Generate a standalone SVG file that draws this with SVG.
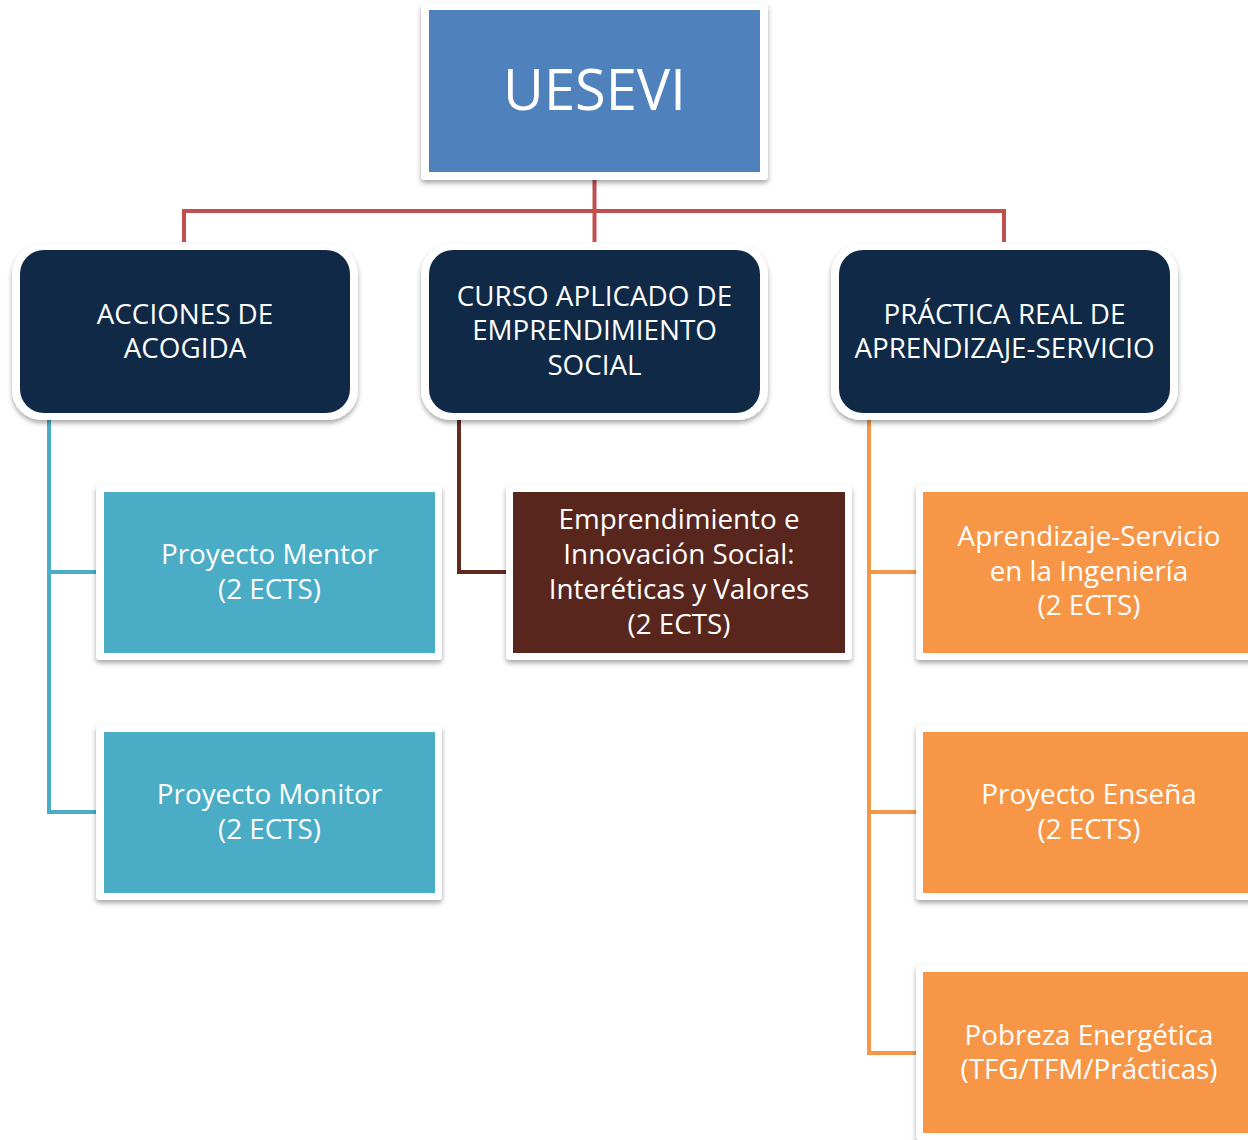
<svg xmlns="http://www.w3.org/2000/svg" width="1248" height="1140" viewBox="0 0 1248 1140">
<defs>
<filter id="sh" x="-10%" y="-10%" width="120%" height="125%">
<feDropShadow dx="0" dy="3" stdDeviation="2.5" flood-color="#000" flood-opacity="0.35"/>
</filter>
<style>
.frame{fill:#fff;filter:url(#sh)}
.t{font-family:"Open Sans","Liberation Sans",sans-serif;fill:#fff;text-anchor:middle}
.t1{font-size:56px}
.t2{font-size:27.8px}
.t3{font-size:27.8px}
.c{fill:none;stroke-width:4}
</style>
</defs>
<rect width="1248" height="1140" fill="#fff"/>
<g id="connectors">
<path class="c" stroke="#C0504D" d="M594.5 180V242M184 242V211H1004V242"/>
<path class="c" stroke="#4BACC6" d="M49 420V812H97M49 572H97"/>
<path class="c" stroke="#632A1E" d="M459 420V572H507"/>
<path class="c" stroke="#F79646" d="M869 420V1053H916M869 572H916M869 812H916"/>
</g>
<g id="uesevi">
<rect class="frame" x="421" y="3" width="347" height="177" rx="4"/>
<rect x="429" y="10" width="331" height="162" fill="#4F81BD"/>
<text class="t t1" x="594.5" y="110">UESEVI</text>
</g>
<g id="acciones">
<rect class="frame" x="12" y="244" width="346" height="176" rx="30"/>
<rect x="20" y="250" width="330" height="163" rx="24" fill="#0F2946"/>
<text class="t t2" x="185" y="324">ACCIONES DE</text>
<text class="t t2" x="185" y="358">ACOGIDA</text>
</g>
<g id="curso">
<rect class="frame" x="421" y="244" width="347" height="176" rx="30"/>
<rect x="429" y="250" width="331" height="163" rx="24" fill="#0F2946"/>
<text class="t t2" x="594.5" y="306">CURSO APLICADO DE</text>
<text class="t t2" x="594.5" y="340">EMPRENDIMIENTO</text>
<text class="t t2" x="594.5" y="375">SOCIAL</text>
</g>
<g id="practica">
<rect class="frame" x="831" y="244" width="347" height="176" rx="30"/>
<rect x="839" y="250" width="331" height="163" rx="24" fill="#0F2946"/>
<text class="t t2" x="1004.5" y="324">PRÁCTICA REAL DE</text>
<text class="t t2" x="1004.5" y="358">APRENDIZAJE-SERVICIO</text>
</g>
<g id="mentor">
<rect class="frame" x="96" y="485" width="346" height="175" rx="4"/>
<rect x="104" y="492" width="331" height="161" fill="#4BACC6"/>
<text class="t t3" x="269.5" y="564">Proyecto Mentor</text>
<text class="t t3" x="269.5" y="599">(2 ECTS)</text>
</g>
<g id="monitor">
<rect class="frame" x="96" y="725" width="346" height="175" rx="4"/>
<rect x="104" y="732" width="331" height="161" fill="#4BACC6"/>
<text class="t t3" x="269.5" y="804">Proyecto Monitor</text>
<text class="t t3" x="269.5" y="839">(2 ECTS)</text>
</g>
<g id="emprendimiento">
<rect class="frame" x="506" y="485" width="346" height="175" rx="4"/>
<rect x="513" y="492" width="332" height="161" fill="#58261D"/>
<text class="t t3" x="679" y="529">Emprendimiento e</text>
<text class="t t3" x="679" y="564">Innovación Social:</text>
<text class="t t3" x="679" y="599">Interéticas y Valores</text>
<text class="t t3" x="679" y="634">(2 ECTS)</text>
</g>
<g id="aprendizaje">
<rect class="frame" x="916" y="485" width="346" height="175" rx="4"/>
<rect x="923" y="492" width="331" height="161" fill="#F79646"/>
<text class="t t3" x="1089" y="546">Aprendizaje-Servicio</text>
<text class="t t3" x="1089" y="581">en la Ingeniería</text>
<text class="t t3" x="1089" y="615">(2 ECTS)</text>
</g>
<g id="ensena">
<rect class="frame" x="916" y="725" width="346" height="175" rx="4"/>
<rect x="923" y="732" width="331" height="161" fill="#F79646"/>
<text class="t t3" x="1089" y="804">Proyecto Enseña</text>
<text class="t t3" x="1089" y="839">(2 ECTS)</text>
</g>
<g id="pobreza">
<rect class="frame" x="916" y="965" width="346" height="175" rx="4"/>
<rect x="923" y="972" width="331" height="161" fill="#F79646"/>
<text class="t t3" x="1089" y="1045">Pobreza Energética</text>
<text class="t t3" x="1089" y="1079">(TFG/TFM/Prácticas)</text>
</g>
</svg>
